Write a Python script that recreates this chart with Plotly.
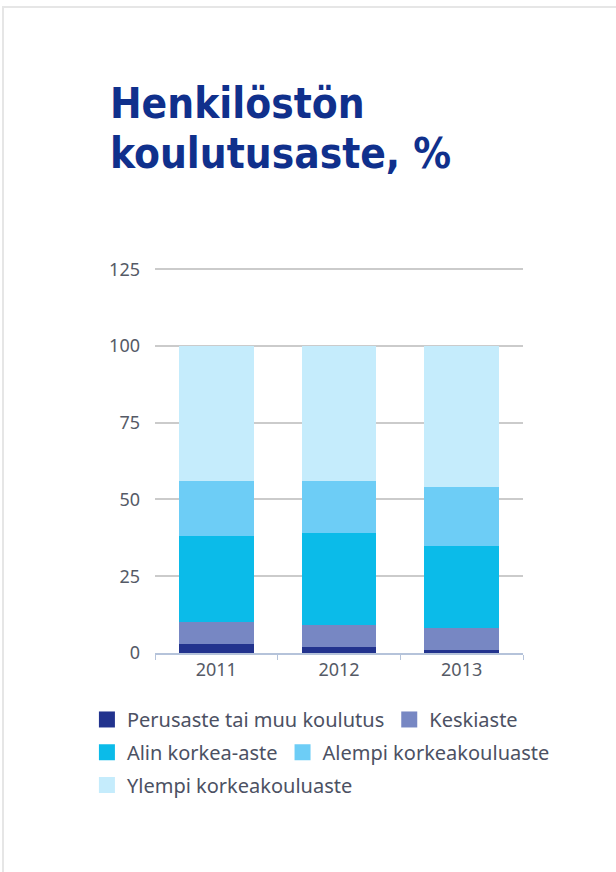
import plotly.graph_objects as go

# Henkilöstön koulutusaste (%) by year
years = ["2011", "2012", "2013"]
perusaste = [3, 2, 1]
keskiaste = [7, 7, 7]
alin_korkea = [28, 30, 27]
alempi_korkeakoulu = [18, 17, 19]
ylempi_korkeakoulu = [44, 44, 46]

names = ["Perusaste tai muu koulutus", "Keskiaste", "Alin korkea-aste",
         "Alempi korkeakouluaste", "Ylempi korkeakouluaste"]
values = [perusaste, keskiaste, alin_korkea, alempi_korkeakoulu, ylempi_korkeakoulu]
colors = ["#22338e", "#7787c3", "#0bbbe9", "#6dcdf6", "#c5ecfc"]
# legend rows in the reference flow like text
legend_rows = ["legend", "legend", "legend2", "legend2", "legend3"]

fig = go.Figure()
for name, vals, color, lg in zip(names, values, colors, legend_rows):
    fig.add_trace(go.Bar(x=years, y=vals, name=name, legendgroup=name,
                         showlegend=False,
                         marker=dict(color=color, line_width=0)))
    # legend-only entry with a bigger square swatch
    fig.add_trace(go.Scatter(x=[None], y=[None], mode="markers", name=name,
                             legendgroup=name, legend=lg,
                             marker=dict(symbol="square", size=16, color=color)))

text_col = "#4c5163"
leg_common = dict(orientation="h", xanchor="left", yanchor="top",
                  font=dict(size=20, color=text_col, family="Noto Sans"),
                  itemsizing="trace", tracegroupgap=0, itemwidth=30,
                  bgcolor="rgba(0,0,0,0)")

fig.update_layout(
    width=616, height=872,
    barmode="stack", bargap=0.39,
    plot_bgcolor="white", paper_bgcolor="white",
    margin=dict(l=155, r=93, t=268, b=219),
    font=dict(family="Noto Sans", color="#555a66", size=18),
    legend=dict(x=-0.185, y=-0.122, **leg_common),
    legend2=dict(x=-0.185, y=-0.207, **leg_common),
    legend3=dict(x=-0.185, y=-0.292, **leg_common),
)

title_font = dict(family="DejaVu Sans", size=42, color="#10308c")
for line, ypx in [("<b>Henkilöstön</b>", 103), ("<b>koulutusaste, %</b>", 153)]:
    fig.add_annotation(text=line, xref="paper", yref="paper",
                       x=(108 - 155) / 368, y=(653 - ypx) / 385,
                       xanchor="left", yanchor="middle", align="left",
                       showarrow=False, font=title_font)

fig.update_yaxes(
    range=[0, 125.4], tickvals=[0, 25, 50, 75, 100, 125],
    showgrid=True, gridcolor="#cbcbcb", gridwidth=1.5,
    zeroline=False, ticks="", ticklabelstandoff=14,
    tickfont=dict(size=18, color="#555a66"),
)
fig.update_xaxes(
    showline=True, linecolor="#b5c3da", linewidth=1.5,
    ticks="outside", tickson="boundaries", ticklen=5, tickcolor="#b5c3da",
    tickfont=dict(size=18, color="#555a66"),
)

# light frame around the card
fig.add_shape(type="rect", xref="paper", yref="paper",
              x0=(3 - 155) / 368, x1=2, y0=-1, y1=(653 - 7) / 385,
              line=dict(color="#e6e6e6", width=2), fillcolor="rgba(0,0,0,0)",
              layer="below")

# no page margin; condensed face for the heading
js = ("document.body.style.margin='0';"
      "document.querySelectorAll('.annotation-text').forEach("
      "function(e){e.style.fontStretch='condensed';});")
fig.write_html("out.html", post_script=js, config={"displayModeBar": False})
